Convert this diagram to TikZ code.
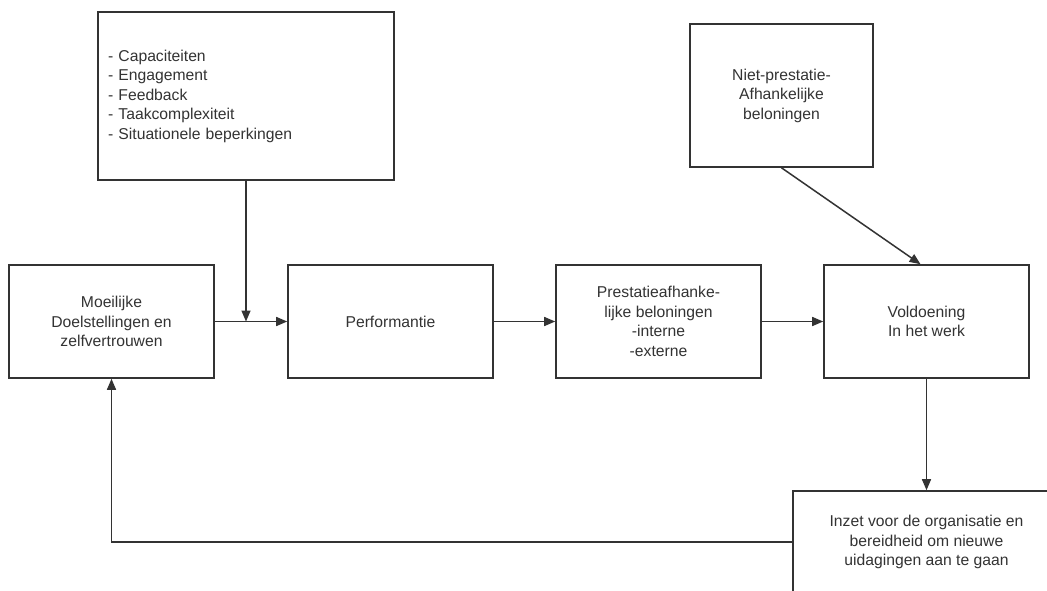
\documentclass[tikz,border=0pt]{standalone}
\usepackage{fontspec}
\setmainfont{Liberation Sans}
\usetikzlibrary{arrows.meta}
\definecolor{lijn}{HTML}{333333}
\definecolor{tekst}{HTML}{333333}
\tikzset{
    blok/.style={draw=lijn, line width=1.6pt, text=tekst, align=center,
        minimum width=205pt, minimum height=113pt, inner sep=0pt,
        font=\fontsize{15.7}{19.5}\selectfont},
    pijl/.style={draw=lijn, line width=1.5pt, -{Triangle[length=11pt, width=9pt]}}
}
\begin{document}
\begin{tikzpicture}[x=1pt, y=-1pt]
        \useasboundingbox (0, 0) rectangle (1047, 590);
        \clip (0, 0) rectangle (1047, 590);
        \fill [white] (0, 0) rectangle (1047, 590);
        \node [blok, minimum width=296pt, minimum height=168pt, text width=276pt, align=left] (lijst) at (246, 96) {- Capaciteiten\\- Engagement\\- Feedback\\- Taakcomplexiteit\\- Situationele beperkingen};
        \node [blok, minimum width=183pt, minimum height=143pt] (niet) at (781.5, 95.5) {Niet-prestatie-\\Afhankelijke\\beloningen};
        \node [blok] (doel) at (111.5, 321.5) {Moeilijke\\Doelstellingen en\\zelfvertrouwen};
        \node [blok] (perf) at (390.5, 321.5) {Performantie};
        \node [blok] (prest) at (658.5, 321.5) {Prestatieafhanke-\\lijke beloningen\\-interne\\-externe};
        \node [blok] (vold) at (926.5, 321.5) {Voldoening\\In het werk};
        \node [blok, minimum width=267pt, minimum height=102pt] (inzet) at (926.5, 542) {Inzet voor de organisatie en\\bereidheid om nieuwe\\uidagingen aan te gaan};
        \coordinate (samen) at (lijst.south |- doel.east);
        \draw [pijl] (lijst.south) -- (samen);
        \draw [pijl] (doel.east) -- (perf.west);
        \draw [pijl] (perf.east) -- (prest.west);
        \draw [pijl] (prest.east) -- (vold.west);
        \draw [pijl] (niet.south) -- ([xshift=-6pt]vold.north);
        \draw [pijl] (vold.south) -- (inzet.north);
        \draw [pijl] (inzet.west) -| (doel.south);
    \end{tikzpicture}
\end{document}
